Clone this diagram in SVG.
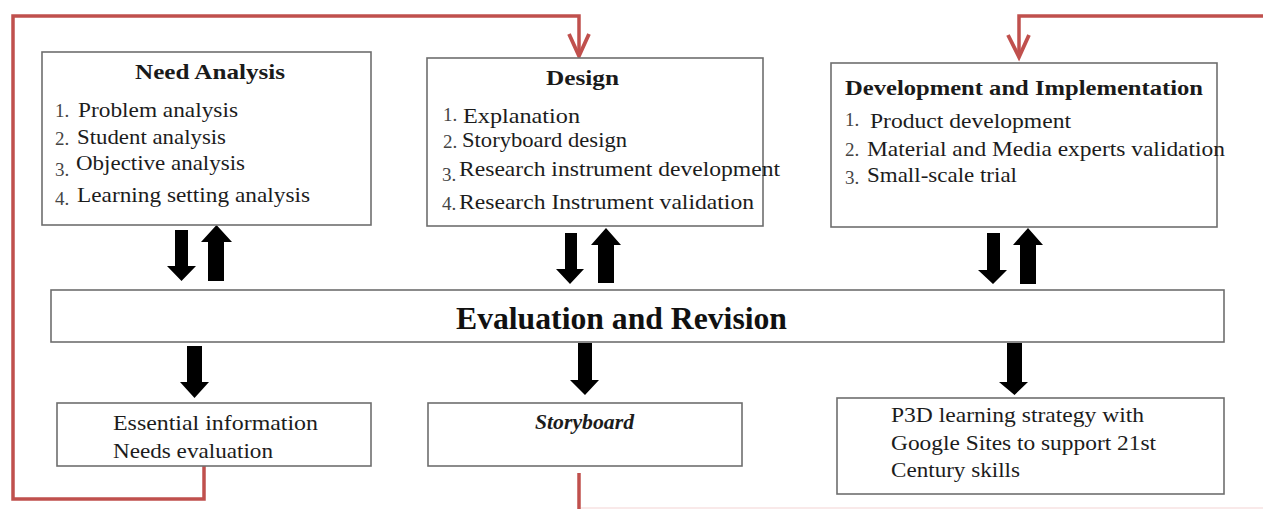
<svg xmlns="http://www.w3.org/2000/svg" width="1263" height="509" viewBox="0 0 1263 509">
  <defs>
    <style>
      .box { fill: #ffffff; stroke: #6e6e6e; stroke-width: 1.6; }
      .t { font-family: "Liberation Serif", "Times New Roman", serif; font-size: 21px; fill: #1c1c1c; }
      .h { font-family: "Liberation Serif", "Times New Roman", serif; font-size: 21px; font-weight: bold; fill: #1a1a1a; }
      .num { font-family: "Liberation Serif", "Times New Roman", serif; font-size: 19px; fill: #444444; }
      .big { font-family: "Liberation Serif", "Times New Roman", serif; font-size: 31px; font-weight: bold; fill: #111111; }
      .loop { fill: none; stroke: #c0504d; stroke-width: 3.5; stroke-linejoin: miter; }
      .chev { fill: none; stroke: #c0504d; stroke-width: 3.8; }
      .block { fill: #000000; }
    </style>
  </defs>
  <rect width="1263" height="509" fill="#ffffff"/>

  <!-- feedback loops -->
  <g id="connectors">
    <path class="loop" d="M204,466 V499 H13 V16 H579 V56"/>
    <path class="loop" d="M1263,16 H1019 V57"/>
    <path class="chev" d="M569,34 L579,56 L589,34"/>
    <path class="chev" d="M1008,35 L1019,57 L1029,35"/>
    <path class="loop" d="M579,473 V509"/>
    <line x1="581" y1="508" x2="1263" y2="508" stroke="#f3d3d3" stroke-width="1"/>

    <!-- block arrows between phases and evaluation -->
    <polygon class="block" points="175,230 188,230 188,266 196,266 181.5,281 167,266 175,266"/>
    <polygon class="block" points="208,281 224,281 224,242 232,242 216.5,225 201,242 208,242"/>
    <polygon class="block" points="565,233 577,233 577,269 584,269 570,284 556,269 565,269"/>
    <polygon class="block" points="598,283 614,283 614,245 621,245 606,228 591,245 598,245"/>
    <polygon class="block" points="987,233 1000,233 1000,270 1007,270 993,284 978,270 987,270"/>
    <polygon class="block" points="1020,284 1036,284 1036,245 1043,245 1028,228 1013,245 1020,245"/>
    <polygon class="block" points="187,346 202,346 202,382 209,382 194.5,398 180,382 187,382"/>
    <polygon class="block" points="578,343 592,343 592,380 599,380 585,395 570,380 578,380"/>
    <polygon class="block" points="1007,343 1022,343 1022,382 1028,382 1014.5,395 999,382 1007,382"/>
  </g>

  <g id="need-analysis">
    <rect class="box" x="42" y="52" width="329" height="173"/>
    <text class="h" x="135" y="79" textLength="150" lengthAdjust="spacingAndGlyphs">Need Analysis</text>
    <text class="num" x="55" y="117">1.</text>
    <text class="t" x="78" y="117" textLength="160" lengthAdjust="spacingAndGlyphs">Problem analysis</text>
    <text class="num" x="55" y="145">2.</text>
    <text class="t" x="77" y="144" textLength="149" lengthAdjust="spacingAndGlyphs">Student analysis</text>
    <text class="num" x="55" y="176">3.</text>
    <text class="t" x="76" y="170" textLength="169" lengthAdjust="spacingAndGlyphs">Objective analysis</text>
    <text class="num" x="55" y="205">4.</text>
    <text class="t" x="77" y="202" textLength="233" lengthAdjust="spacingAndGlyphs">Learning setting analysis</text>
  </g>

  <g id="design">
    <rect class="box" x="427" y="58" width="336" height="168"/>
    <text class="h" x="546" y="85" textLength="73" lengthAdjust="spacingAndGlyphs">Design</text>
    <text class="num" x="443" y="121">1.</text>
    <text class="t" x="463" y="123" textLength="117" lengthAdjust="spacingAndGlyphs">Explanation</text>
    <text class="num" x="443" y="148">2.</text>
    <text class="t" x="462" y="147" textLength="165" lengthAdjust="spacingAndGlyphs">Storyboard design</text>
    <text class="num" x="442" y="181">3.</text>
    <text class="t" x="459" y="176" textLength="321" lengthAdjust="spacingAndGlyphs">Research instrument development</text>
    <text class="num" x="442" y="210">4.</text>
    <text class="t" x="459" y="209" textLength="295" lengthAdjust="spacingAndGlyphs">Research Instrument validation</text>
  </g>

  <g id="development-implementation">
    <rect class="box" x="831" y="63" width="386" height="164"/>
    <text class="h" x="845" y="95" textLength="358" lengthAdjust="spacingAndGlyphs">Development and Implementation</text>
    <text class="num" x="845" y="126">1.</text>
    <text class="t" x="870" y="128" textLength="201" lengthAdjust="spacingAndGlyphs">Product development</text>
    <text class="num" x="845" y="156">2.</text>
    <text class="t" x="867" y="156" textLength="358" lengthAdjust="spacingAndGlyphs">Material and Media experts validation</text>
    <text class="num" x="845" y="184">3.</text>
    <text class="t" x="867" y="182" textLength="150" lengthAdjust="spacingAndGlyphs">Small-scale trial</text>
  </g>

  <g id="evaluation-revision">
    <rect class="box" x="51" y="290" width="1173" height="52"/>
    <text class="big" x="456" y="329" textLength="331" lengthAdjust="spacingAndGlyphs">Evaluation and Revision</text>
  </g>

  <g id="essential-information">
    <rect class="box" x="57" y="403" width="314" height="63"/>
    <text class="t" x="113" y="430" textLength="205" lengthAdjust="spacingAndGlyphs">Essential information</text>
    <text class="t" x="113" y="458" textLength="160" lengthAdjust="spacingAndGlyphs">Needs evaluation</text>
  </g>

  <g id="storyboard">
    <rect class="box" x="428" y="403" width="314" height="63"/>
    <text class="t" x="535" y="429" font-style="italic" font-weight="bold" textLength="99" lengthAdjust="spacingAndGlyphs">Storyboard</text>
  </g>

  <g id="p3d-product">
    <rect class="box" x="837" y="398" width="387" height="96"/>
    <text class="t" x="891" y="422" textLength="253" lengthAdjust="spacingAndGlyphs">P3D learning strategy with</text>
    <text class="t" x="891" y="450" textLength="265" lengthAdjust="spacingAndGlyphs">Google Sites to support 21st</text>
    <text class="t" x="891" y="477" textLength="129" lengthAdjust="spacingAndGlyphs">Century skills</text>
  </g>
</svg>
